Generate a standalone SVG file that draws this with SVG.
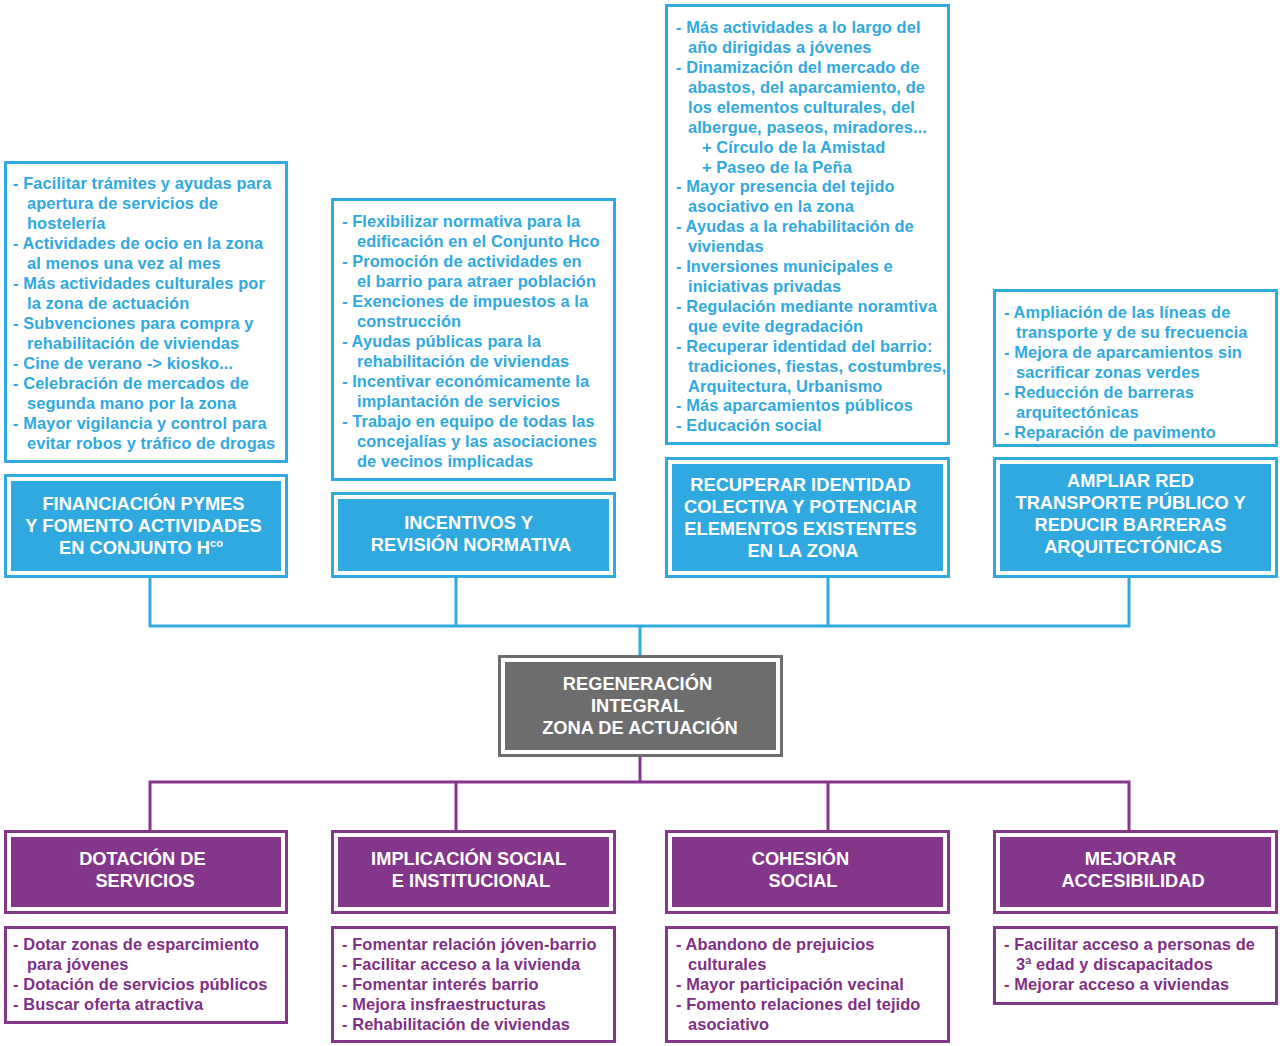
<svg xmlns="http://www.w3.org/2000/svg" width="1280" height="1046" viewBox="0 0 1280 1046">
<style>
.bg{fill:#ffffff}
.bbox{fill:#ffffff;stroke:#30a9e1;stroke-width:3}
.pbox{fill:#ffffff;stroke:#84368b;stroke-width:3}
.gbox{fill:#ffffff;stroke:#6d6d6d;stroke-width:3}
.bfill{fill:#30a9e1}
.pfill{fill:#84368b}
.gfill{fill:#6d6d6d}
.bt{font-family:"Liberation Sans",Arial,sans-serif;font-weight:bold;font-size:16.4px;letter-spacing:0.1px;fill:#30a9e1}
.pt{font-family:"Liberation Sans",Arial,sans-serif;font-weight:bold;font-size:16.4px;letter-spacing:0.1px;fill:#7f3085}
.ht{font-family:"Liberation Sans",Arial,sans-serif;font-weight:bold;font-size:18.3px;fill:#ffffff;text-anchor:middle}
.bline{fill:none;stroke:#30a9e1;stroke-width:3}
.pline{fill:none;stroke:#84368b;stroke-width:3}
</style>
<rect class="bg" x="0" y="0" width="1280" height="1046"/>

<g id="connectors">
<path class="bline" d="M150 576V626M456 576V626M828 576V626M1129 576V626M148.5 626H1130.5M640 626V656"/>
<path class="pline" d="M640 755V782M148.5 782H1130.5M150 782V831M456 782V831M828 782V831M1129 782V831"/>
</g>

<g id="list-financiacion">
<rect class="bbox" x="5.5" y="162.5" width="281" height="299"/>
<text class="bt">
<tspan x="13" y="189">- Facilitar trámites y ayudas para</tspan>
<tspan x="27" y="209">apertura de servicios de</tspan>
<tspan x="27" y="229">hostelería</tspan>
<tspan x="13" y="249">- Actividades de ocio en la zona</tspan>
<tspan x="27" y="269">al menos una vez al mes</tspan>
<tspan x="13" y="289">- Más actividades culturales por</tspan>
<tspan x="27" y="309">la zona de actuación</tspan>
<tspan x="13" y="329">- Subvenciones para compra y</tspan>
<tspan x="27" y="349">rehabilitación de viviendas</tspan>
<tspan x="13" y="369">- Cine de verano -&gt; kiosko...</tspan>
<tspan x="13" y="389">- Celebración de mercados de</tspan>
<tspan x="27" y="409">segunda mano por la zona</tspan>
<tspan x="13" y="429">- Mayor vigilancia y control para</tspan>
<tspan x="27" y="449">evitar robos y tráfico de drogas</tspan>
</text>
</g>

<g id="list-incentivos">
<rect class="bbox" x="332.5" y="199.5" width="282" height="280"/>
<text class="bt">
<tspan x="342" y="227">- Flexibilizar normativa para la</tspan>
<tspan x="357" y="247">edificación en el Conjunto Hco</tspan>
<tspan x="342" y="267">- Promoción de actividades en</tspan>
<tspan x="357" y="287">el barrio para atraer población</tspan>
<tspan x="342" y="307">- Exenciones de impuestos a la</tspan>
<tspan x="357" y="327">construcción</tspan>
<tspan x="342" y="347">- Ayudas públicas para la</tspan>
<tspan x="357" y="367">rehabilitación de viviendas</tspan>
<tspan x="342" y="387">- Incentivar económicamente la</tspan>
<tspan x="357" y="407">implantación de servicios</tspan>
<tspan x="342" y="427">- Trabajo en equipo de todas las</tspan>
<tspan x="357" y="447">concejalías y las asociaciones</tspan>
<tspan x="357" y="467">de vecinos implicadas</tspan>
</text>
</g>

<g id="list-identidad">
<rect class="bbox" x="666.5" y="5.5" width="282" height="438"/>
<text class="bt">
<tspan x="676" y="33">- Más actividades a lo largo del</tspan>
<tspan x="688" y="53">año dirigidas a jóvenes</tspan>
<tspan x="676" y="73">- Dinamización del mercado de</tspan>
<tspan x="688" y="93">abastos, del aparcamiento, de</tspan>
<tspan x="688" y="113">los elementos culturales, del</tspan>
<tspan x="688" y="133">albergue, paseos, miradores...</tspan>
<tspan x="702" y="153">+ Círculo de la Amistad</tspan>
<tspan x="702" y="173">+ Paseo de la Peña</tspan>
<tspan x="676" y="192">- Mayor presencia del tejido</tspan>
<tspan x="688" y="212">asociativo en la zona</tspan>
<tspan x="676" y="232">- Ayudas a la rehabilitación de</tspan>
<tspan x="688" y="252">viviendas</tspan>
<tspan x="676" y="272">- Inversiones municipales e</tspan>
<tspan x="688" y="292">iniciativas privadas</tspan>
<tspan x="676" y="312">- Regulación mediante noramtiva</tspan>
<tspan x="688" y="332">que evite degradación</tspan>
<tspan x="676" y="352">- Recuperar identidad del barrio:</tspan>
<tspan x="688" y="372">tradiciones, fiestas, costumbres,</tspan>
<tspan x="688" y="392">Arquitectura, Urbanismo</tspan>
<tspan x="676" y="411">- Más aparcamientos públicos</tspan>
<tspan x="676" y="431">- Educación social</tspan>
</text>
</g>

<g id="list-transporte">
<rect class="bbox" x="994.5" y="290.5" width="282" height="155"/>
<text class="bt">
<tspan x="1004" y="318">- Ampliación de las líneas de</tspan>
<tspan x="1016" y="338">transporte y de su frecuencia</tspan>
<tspan x="1004" y="358">- Mejora de aparcamientos sin</tspan>
<tspan x="1016" y="378">sacrificar zonas verdes</tspan>
<tspan x="1004" y="398">- Reducción de barreras</tspan>
<tspan x="1016" y="418">arquitectónicas</tspan>
<tspan x="1004" y="438">- Reparación de pavimento</tspan>
</text>
</g>

<g id="head-financiacion">
<rect class="bbox" x="5.5" y="475.5" width="281" height="101"/>
<rect class="bfill" x="11" y="481" width="270" height="90"/>
<text class="ht">
<tspan x="146" y="509.5">FINANCIACIÓN PYMES</tspan>
<tspan x="146" y="531.5">Y FOMENTO ACTIVIDADES</tspan>
<tspan x="141" y="553.5">EN CONJUNTO H<tspan font-size="11" dy="-7">co</tspan></tspan>
</text>
</g>

<g id="head-incentivos">
<rect class="bbox" x="332.5" y="493.5" width="282" height="83"/>
<rect class="bfill" x="338" y="499" width="271" height="72"/>
<text class="ht">
<tspan x="471" y="528.5">INCENTIVOS Y</tspan>
<tspan x="471" y="550.5">REVISIÓN NORMATIVA</tspan>
</text>
</g>

<g id="head-identidad">
<rect class="bbox" x="666.5" y="458.5" width="282" height="118"/>
<rect class="bfill" x="672" y="464" width="271" height="107"/>
<text class="ht">
<tspan x="803" y="490.5">RECUPERAR IDENTIDAD</tspan>
<tspan x="803" y="512.5">COLECTIVA Y POTENCIAR</tspan>
<tspan x="803" y="534.5">ELEMENTOS EXISTENTES</tspan>
<tspan x="803" y="556.5">EN LA ZONA</tspan>
</text>
</g>

<g id="head-transporte">
<rect class="bbox" x="994.5" y="458.5" width="282" height="118"/>
<rect class="bfill" x="1000" y="464" width="271" height="107"/>
<text class="ht">
<tspan x="1133" y="486.5">AMPLIAR RED</tspan>
<tspan x="1133" y="508.5">TRANSPORTE PÚBLICO Y</tspan>
<tspan x="1133" y="530.5">REDUCIR BARRERAS</tspan>
<tspan x="1133" y="552.5">ARQUITECTÓNICAS</tspan>
</text>
</g>

<g id="center">
<rect class="gbox" x="499.5" y="656.5" width="282" height="99"/>
<rect class="gfill" x="505" y="662" width="271" height="88"/>
<text class="ht">
<tspan x="640" y="689.5">REGENERACIÓN</tspan>
<tspan x="640" y="711.5">INTEGRAL</tspan>
<tspan x="640" y="733.5">ZONA DE ACTUACIÓN</tspan>
</text>
</g>

<g id="head-dotacion">
<rect class="pbox" x="5.5" y="831.5" width="281" height="81"/>
<rect class="pfill" x="11" y="837" width="270" height="70"/>
<text class="ht">
<tspan x="145" y="864.5">DOTACIÓN DE</tspan>
<tspan x="145" y="886.5">SERVICIOS</tspan>
</text>
</g>

<g id="head-implicacion">
<rect class="pbox" x="332.5" y="831.5" width="282" height="81"/>
<rect class="pfill" x="338" y="837" width="271" height="70"/>
<text class="ht">
<tspan x="471" y="864.5">IMPLICACIÓN SOCIAL</tspan>
<tspan x="471" y="886.5">E INSTITUCIONAL</tspan>
</text>
</g>

<g id="head-cohesion">
<rect class="pbox" x="666.5" y="831.5" width="282" height="81"/>
<rect class="pfill" x="672" y="837" width="271" height="70"/>
<text class="ht">
<tspan x="803" y="864.5">COHESIÓN</tspan>
<tspan x="803" y="886.5">SOCIAL</tspan>
</text>
</g>

<g id="head-accesibilidad">
<rect class="pbox" x="994.5" y="831.5" width="282" height="81"/>
<rect class="pfill" x="1000" y="837" width="271" height="70"/>
<text class="ht">
<tspan x="1133" y="864.5">MEJORAR</tspan>
<tspan x="1133" y="886.5">ACCESIBILIDAD</tspan>
</text>
</g>

<g id="list-dotacion">
<rect class="pbox" x="5.5" y="927.5" width="281" height="95"/>
<text class="pt">
<tspan x="13" y="950">- Dotar zonas de esparcimiento</tspan>
<tspan x="27" y="970">para jóvenes</tspan>
<tspan x="13" y="990">- Dotación de servicios públicos</tspan>
<tspan x="13" y="1010">- Buscar oferta atractiva</tspan>
</text>
</g>

<g id="list-implicacion">
<rect class="pbox" x="332.5" y="927.5" width="282" height="114"/>
<text class="pt">
<tspan x="342" y="950">- Fomentar relación jóven-barrio</tspan>
<tspan x="342" y="970">- Facilitar acceso a la vivienda</tspan>
<tspan x="342" y="990">- Fomentar interés barrio</tspan>
<tspan x="342" y="1010">- Mejora insfraestructuras</tspan>
<tspan x="342" y="1030">- Rehabilitación de viviendas</tspan>
</text>
</g>

<g id="list-cohesion">
<rect class="pbox" x="666.5" y="927.5" width="282" height="114"/>
<text class="pt">
<tspan x="676" y="950">- Abandono de prejuicios</tspan>
<tspan x="688" y="970">culturales</tspan>
<tspan x="676" y="990">- Mayor participación vecinal</tspan>
<tspan x="676" y="1010">- Fomento relaciones del tejido</tspan>
<tspan x="688" y="1030">asociativo</tspan>
</text>
</g>

<g id="list-accesibilidad">
<rect class="pbox" x="994.5" y="927.5" width="282" height="76"/>
<text class="pt">
<tspan x="1004" y="950">- Facilitar acceso a personas de</tspan>
<tspan x="1016" y="970">3ª edad y discapacitados</tspan>
<tspan x="1004" y="990">- Mejorar acceso a viviendas</tspan>
</text>
</g>
</svg>
